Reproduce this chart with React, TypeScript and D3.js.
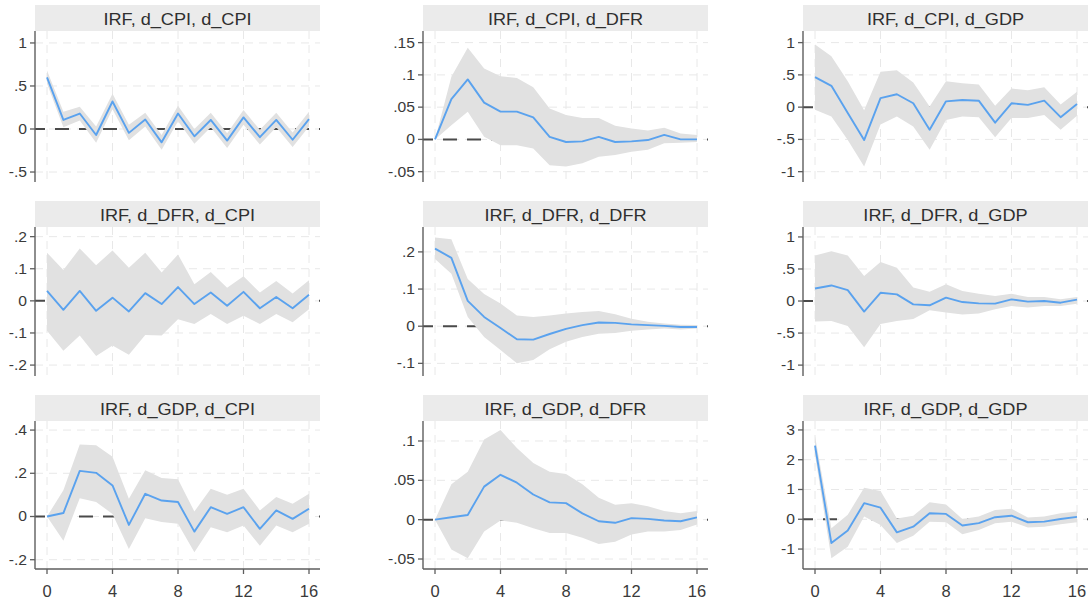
import * as d3 from 'd3';
import React from 'react';

// horizons (steps)
const steps = [0, 1, 2, 3, 4, 5, 6, 7, 8, 9, 10, 11, 12, 13, 14, 15, 16];
const xTicks = [0, 4, 8, 12, 16];

const titles = [
  'IRF, d_CPI, d_CPI', 'IRF, d_CPI, d_DFR', 'IRF, d_CPI, d_GDP',
  'IRF, d_DFR, d_CPI', 'IRF, d_DFR, d_DFR', 'IRF, d_DFR, d_GDP',
  'IRF, d_GDP, d_CPI', 'IRF, d_GDP, d_DFR', 'IRF, d_GDP, d_GDP',
];

// impulse responses
const irfCpiCpi = [0.60, 0.105, 0.18, -0.07, 0.32, -0.045, 0.11, -0.155, 0.18, -0.085, 0.105, -0.135, 0.135, -0.095, 0.105, -0.125, 0.115];
const irfCpiDfr = [0, 0.0625, 0.093, 0.057, 0.043, 0.043, 0.034, 0.004, -0.004, -0.003, 0.004, -0.004, -0.003, -0.001, 0.007, 0, 0];
const irfCpiGdp = [0.465, 0.33, -0.09, -0.51, 0.14, 0.20, 0.06, -0.35, 0.09, 0.11, 0.10, -0.24, 0.06, 0.035, 0.10, -0.155, 0.05];
const irfDfrCpi = [0.031, -0.028, 0.031, -0.031, 0.010, -0.033, 0.024, -0.010, 0.043, -0.010, 0.026, -0.015, 0.028, -0.023, 0.012, -0.023, 0.019];
const irfDfrDfr = [0.209, 0.184, 0.068, 0.025, -0.005, -0.035, -0.036, -0.021, -0.007, 0.003, 0.010, 0.009, 0.005, 0.003, 0.001, -0.002, -0.002];
const irfDfrGdp = [0.196, 0.243, 0.17, -0.165, 0.129, 0.103, -0.052, -0.067, 0.052, -0.016, -0.036, -0.041, 0.026, -0.010, 0, -0.026, 0.021];
const irfGdpCpi = [0, 0.016, 0.211, 0.202, 0.144, -0.039, 0.105, 0.074, 0.067, -0.070, 0.043, 0.012, 0.043, -0.057, 0.028, -0.011, 0.036];
const irfGdpDfr = [0, 0.003, 0.006, 0.042, 0.057, 0.047, 0.032, 0.022, 0.021, 0.008, -0.002, -0.004, 0.002, 0.001, -0.001, -0.002, 0.003];
const irfGdpGdp = [2.47, -0.80, -0.38, 0.54, 0.39, -0.44, -0.25, 0.20, 0.18, -0.21, -0.13, 0.07, 0.12, -0.10, -0.08, 0.01, 0.08];

// 95% CI upper bounds
const upCpiCpi = [0.68, 0.20, 0.26, 0.03, 0.41, 0.05, 0.19, -0.07, 0.27, 0.00, 0.19, -0.05, 0.22, -0.01, 0.19, -0.04, 0.20];
const upCpiDfr = [0, 0.097, 0.142, 0.110, 0.098, 0.095, 0.081, 0.048, 0.038, 0.033, 0.033, 0.021, 0.017, 0.014, 0.018, 0.009, 0.007];
const upCpiGdp = [0.97, 0.79, 0.40, -0.05, 0.55, 0.57, 0.38, 0.01, 0.40, 0.37, 0.35, 0.02, 0.29, 0.26, 0.31, 0.04, 0.24];
const upDfrCpi = [0.15, 0.096, 0.163, 0.111, 0.157, 0.103, 0.150, 0.088, 0.144, 0.052, 0.090, 0.041, 0.077, 0.026, 0.062, 0.023, 0.064];
const upDfrDfr = [0.239, 0.234, 0.127, 0.087, 0.061, 0.029, 0.025, 0.029, 0.034, 0.038, 0.041, 0.032, 0.020, 0.012, 0.007, 0.004, 0.003];
const upDfrGdp = [0.71, 0.775, 0.71, 0.39, 0.61, 0.52, 0.21, 0.145, 0.26, 0.155, 0.114, 0.078, 0.114, 0.062, 0.062, 0.026, 0.062];
const upGdpCpi = [0, 0.121, 0.333, 0.330, 0.276, 0.082, 0.214, 0.178, 0.172, 0.023, 0.129, 0.101, 0.129, 0.028, 0.09, 0.059, 0.105];
const upGdpDfr = [0, 0.045, 0.061, 0.102, 0.114, 0.091, 0.072, 0.061, 0.058, 0.045, 0.028, 0.019, 0.021, 0.017, 0.011, 0.008, 0.011];
const upGdpGdp = [2.80, -0.30, 0.15, 1.06, 0.95, 0.03, 0.12, 0.57, 0.50, 0.01, 0.09, 0.31, 0.35, 0.06, 0.09, 0.20, 0.26];

// 95% CI lower bounds
const loCpiCpi = [0.53, 0.02, 0.10, -0.16, 0.23, -0.13, 0.03, -0.24, 0.09, -0.17, 0.02, -0.22, 0.05, -0.18, 0.02, -0.21, 0.03];
const loCpiDfr = [0, 0.022, 0.043, 0.004, -0.009, -0.009, -0.014, -0.040, -0.042, -0.037, -0.027, -0.024, -0.019, -0.016, -0.006, -0.005, -0.004];
const loCpiGdp = [-0.04, -0.145, -0.51, -0.92, -0.27, -0.145, -0.30, -0.66, -0.20, -0.145, -0.155, -0.465, -0.17, -0.17, -0.12, -0.35, -0.135];
const loDfrCpi = [-0.093, -0.155, -0.108, -0.172, -0.139, -0.168, -0.106, -0.108, -0.057, -0.072, -0.041, -0.072, -0.046, -0.072, -0.041, -0.067, -0.026];
const loDfrDfr = [0.181, 0.141, 0.025, -0.029, -0.064, -0.1, -0.091, -0.062, -0.042, -0.029, -0.020, -0.018, -0.012, -0.009, -0.006, -0.009, -0.006];
const loDfrGdp = [-0.32, -0.31, -0.39, -0.72, -0.36, -0.31, -0.28, -0.145, -0.18, -0.21, -0.196, -0.13, -0.078, -0.103, -0.078, -0.078, -0.041];
const loGdpCpi = [0, -0.112, 0.085, 0.067, 0.012, -0.150, -0.008, -0.026, -0.034, -0.166, -0.050, -0.073, -0.042, -0.135, -0.042, -0.073, -0.034];
const loGdpDfr = [0, -0.038, -0.049, -0.015, -0.001, -0.004, -0.011, -0.017, -0.017, -0.023, -0.031, -0.028, -0.019, -0.015, -0.015, -0.013, -0.006];
const loGdpGdp = [2.16, -1.31, -0.92, 0.09, -0.19, -0.80, -0.55, -0.08, -0.10, -0.50, -0.36, -0.13, -0.08, -0.28, -0.25, -0.17, -0.10];

// y axis ticks (Stata style labels)
const yTicksAll = [
  [1, 0.5, 0, -0.5], [0.15, 0.1, 0.05, 0, -0.05], [1, 0.5, 0, -0.5, -1],
  [0.2, 0.1, 0, -0.1, -0.2], [0.2, 0.1, 0, -0.1], [1, 0.5, 0, -0.5, -1],
  [0.4, 0.2, 0, -0.2], [0.1, 0.05, 0, -0.05], [3, 2, 1, 0, -1],
];
const yDomains = [
  [-0.616, 1.139], [-0.066, 0.168], [-1.16, 1.18],
  [-0.234, 0.23], [-0.134, 0.267], [-1.17, 1.155],
  [-0.243, 0.442], [-0.0627, 0.1254], [-1.67, 3.3],
];

const irfs = [irfCpiCpi, irfCpiDfr, irfCpiGdp, irfDfrCpi, irfDfrDfr, irfDfrGdp, irfGdpCpi, irfGdpDfr, irfGdpGdp];
const ups = [upCpiCpi, upCpiDfr, upCpiGdp, upDfrCpi, upDfrDfr, upDfrGdp, upGdpCpi, upGdpDfr, upGdpGdp];
const los = [loCpiCpi, loCpiDfr, loCpiGdp, loDfrCpi, loDfrDfr, loDfrGdp, loGdpCpi, loGdpDfr, loGdpGdp];

const fmt = (v: number) => {
  if (v === 0) return '0';
  const s = String(Math.abs(v)).replace(/^0\./, '.');
  return (v < 0 ? '-' : '') + s;
};

const axisX = [35, 423, 803];
const rowTop = [5, 201, 395];
const plotBottom = [182, 376, 569];
const headerW = 285;
const headerH = 26;
const font = '"Liberation Sans", Arial, sans-serif';
const axisColor = '#5e5e5e';

const Panel = ({ i }: { i: number }) => {
  const col = i % 3;
  const row = Math.floor(i / 3);
  const ax = axisX[col];
  const top = rowTop[row] + headerH;
  const bottom = plotBottom[row];
  const right = ax + headerW;

  const x = d3.scaleLinear().domain([0, 16]).range([ax + 12, ax + 274]);
  const y = d3.scaleLinear().domain(yDomains[i]).range([bottom, top]);

  const area = d3.area<number>()
    .x((_, k) => x(steps[k]))
    .y0((_, k) => y(los[i][k]))
    .y1((_, k) => y(ups[i][k]));
  const line = d3.line<number>()
    .x((_, k) => x(steps[k]))
    .y(d => y(d));

  return (
    <g>
      <rect x={ax} y={rowTop[row]} width={headerW} height={headerH} fill="#ebebeb" />
      <text transform={`translate(${ax + headerW / 2},${rowTop[row] + 20}) scale(1.1,1)`}
        textAnchor="middle" fontFamily={font} fontSize={16.5} fill="#2f2f2f">{titles[i]}</text>
      {yTicksAll[i].map(t => (
        <line key={'gy' + t} x1={ax} x2={right} y1={y(t)} y2={y(t)}
          stroke="#e8e8e8" strokeWidth={1} strokeDasharray="8 6" />
      ))}
      {xTicks.map(t => (
        <line key={'gx' + t} x1={x(t)} x2={x(t)} y1={top} y2={bottom}
          stroke="#e8e8e8" strokeWidth={1} strokeDasharray="8 6" />
      ))}
      <line x1={ax} x2={right} y1={y(0)} y2={y(0)} stroke="#4a4a4a" strokeWidth={2}
        strokeDasharray="14 10" strokeDashoffset={4} />
      <path d={area(steps) || ''} fill="#e1e1e1" />
      <path d={line(irfs[i]) || ''} fill="none" stroke="#5aa2ee" strokeWidth={1.9} strokeLinejoin="round" />
      <line x1={ax} x2={ax} y1={top} y2={bottom} stroke={axisColor} strokeWidth={1.4} />
      {yTicksAll[i].map(t => (
        <g key={'ty' + t}>
          <line x1={ax - 5} x2={ax} y1={y(t)} y2={y(t)} stroke={axisColor} strokeWidth={1.3} />
          <text transform={`translate(${ax - 8},${y(t) + 5}) scale(1.08,1)`} textAnchor="end"
            fontFamily={font} fontSize={14.5} fill="#3a3a3a">{fmt(t)}</text>
        </g>
      ))}
      {row === 2 && (
        <g>
          <line x1={ax} x2={right} y1={bottom} y2={bottom} stroke={axisColor} strokeWidth={1.4} />
          {xTicks.map(t => (
            <g key={'tx' + t}>
              <line x1={x(t)} x2={x(t)} y1={bottom} y2={bottom + 5} stroke={axisColor} strokeWidth={1.3} />
              <text x={x(t)} y={bottom + 28} textAnchor="middle" fontFamily={font} fontSize={16.5} fill="#3a3a3a">{t}</text>
            </g>
          ))}
        </g>
      )}
    </g>
  );
};

export default function App() {
  return (
    <svg width={1090} height={605} style={{ position: 'absolute', left: 0, top: 0, background: '#fff' }}>
      {titles.map((_, i) => <Panel key={i} i={i} />)}
    </svg>
  );
}
